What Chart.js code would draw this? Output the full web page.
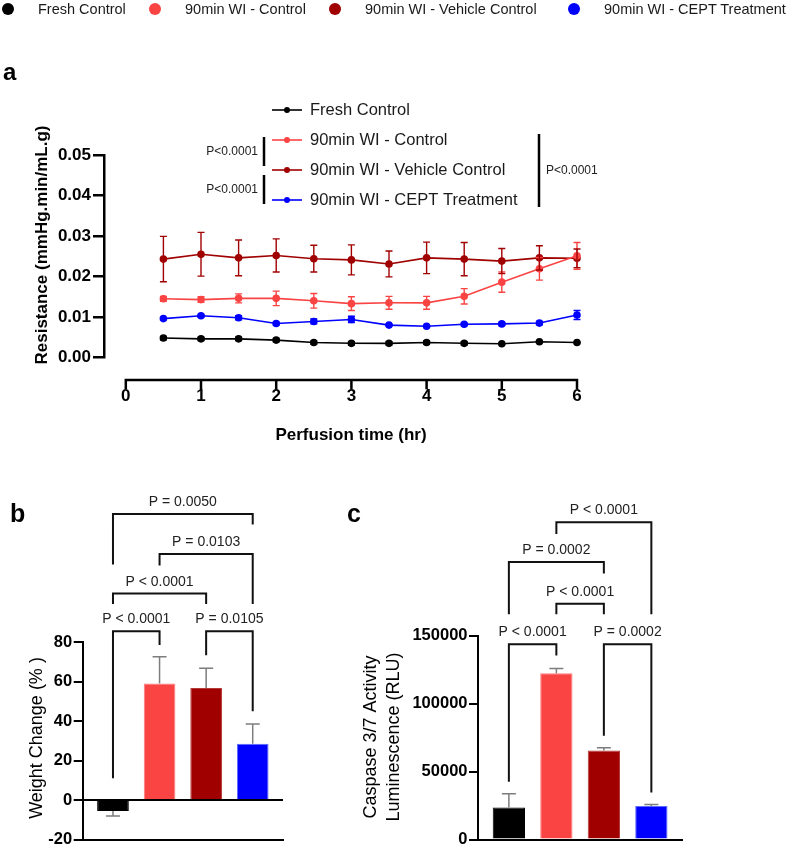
<!DOCTYPE html>
<html lang="en">
<head>
<meta charset="UTF-8">
<title>Resistance, weight change and caspase activity</title>
<style>
  body { margin: 0; background: #fff; font-family: "Liberation Sans", Arial, sans-serif; }
  #page { position: relative; width: 789px; height: 851px; overflow: hidden; }
  canvas { position: absolute; }
  .key { position: absolute; top: 0; height: 18px; line-height: 18px; font-size: 14.5px; color: #1a1a1a; white-space: nowrap; }
  .key i { position: absolute; left: -36px; top: 3px; width: 12px; height: 12px; border-radius: 50%; }
</style>
<script src="https://cdn.jsdelivr.net/npm/chart.js"></script>
</head>
<body>
<div id="page">
  <canvas id="chartA" width="789" height="460" style="left:0;top:0;width:789px;height:460px"></canvas>
  <canvas id="chartB" width="340" height="391" style="left:0;top:460px;width:340px;height:391px"></canvas>
  <canvas id="chartC" width="449" height="391" style="left:340px;top:460px;width:449px;height:391px"></canvas>
</div>

<script>
    // groups (shared by all panels)
    const groups = ['Fresh Control', '90min WI - Control', '90min WI - Vehicle Control', '90min WI - CEPT Treatment'];

    // panel a: resistance over perfusion time (mean and error)
    const times = [0.5, 1, 1.5, 2, 2.5, 3, 3.5, 4, 4.5, 5, 5.5, 6];
    const freshMean   = [0.0048, 0.0046, 0.0046, 0.0043, 0.0037, 0.0035, 0.0035, 0.0037, 0.0035, 0.0034, 0.0039, 0.0037];
    const freshErr    = [0.0004, 0.0004, 0.0004, 0.0004, 0.0004, 0.0004, 0.0004, 0.0004, 0.0004, 0.0001, 0.0001, 0.0001];
    const controlMean = [0.0145, 0.0143, 0.0146, 0.0146, 0.0140, 0.0133, 0.0135, 0.0135, 0.0151, 0.0186, 0.0219, 0.0251];
    const controlErr  = [0.0006, 0.0007, 0.0011, 0.0018, 0.0018, 0.0017, 0.0016, 0.0016, 0.0019, 0.0025, 0.0028, 0.0033];
    const vehicleMean = [0.0243, 0.0255, 0.0246, 0.0252, 0.0244, 0.0241, 0.0231, 0.0246, 0.0243, 0.0238, 0.0246, 0.0245];
    const vehicleErr  = [0.0056, 0.0054, 0.0044, 0.0041, 0.0033, 0.0037, 0.0032, 0.0039, 0.0041, 0.0031, 0.0030, 0.0023];
    const ceptMean    = [0.0096, 0.0103, 0.0098, 0.0084, 0.0089, 0.0094, 0.0080, 0.0077, 0.0082, 0.0083, 0.0085, 0.0105];
    const ceptErr     = [0.0003, 0.0003, 0.0005, 0.0003, 0.0006, 0.0008, 0.0002, 0.0002, 0.0003, 0.0004, 0.0004, 0.0011];
    const xTicksA = [0, 1, 2, 3, 4, 5, 6];

    // panel b: weight change (%)
    const weightMean = [-5.5, 59, 56.7, 28.5];
    const weightErr  = [2.5, 13.5, 10, 10];

    // panel c: caspase 3/7 luminescence (RLU)
    const caspMean = [23600, 122300, 65600, 24800];
    const caspErr  = [10200, 3600, 2000, 1000];

    // significance brackets: groups compared, label, bracket level and where each leg ends (data units)
    const weightBrackets = [
        { from: 0, to: 1, label: 'P < 0.0001', level: 85.5,  ends: [11, 78.5] },
        { from: 2, to: 3, label: 'P = 0.0105', level: 85.5,  ends: [73.3, 45] },
        { from: 0, to: 2, label: 'P < 0.0001', level: 104.5, ends: [99.2, 99.2] },
        { from: 1, to: 3, label: 'P = 0.0103', level: 124.5, ends: [118.7, 99.2] },
        { from: 0, to: 3, label: 'P = 0.0050', level: 144.8, ends: [119.2, 139.5] }
    ];
    const caspBrackets = [
        { from: 0, to: 1, label: 'P < 0.0001', level: 143660, ends: [42500, 135370] },
        { from: 2, to: 3, label: 'P = 0.0002', level: 143660, ends: [76420, 34700] },
        { from: 1, to: 2, label: 'P < 0.0001', level: 173500, ends: [165720, 165720] },
        { from: 0, to: 2, label: 'P = 0.0002', level: 204290, ends: [165720, 195780] },
        { from: 1, to: 3, label: 'P < 0.0001', level: 233400, ends: [224890, 165720] }
    ];

    const colors = ['#000000', '#FA4444', '#A00000', '#0000FF'];
    const edgeColors = ['#000000', '#FF7A7A', '#B53A3A', '#5A6CFF'];
    const FONT = '"Liberation Sans", Arial, sans-serif';
    Chart.defaults.font.family = FONT;
    Chart.defaults.color = '#000';

    // top key, shared by all panels
    const keyX = [38, 185, 365, 604];
    groups.forEach((g, i) => {
        const d = document.createElement('div');
        d.className = 'key';
        d.style.left = keyX[i] + 'px';
        d.innerHTML = '<i style="background:' + colors[i] + '"></i>';
        d.appendChild(document.createTextNode(g));
        document.getElementById('page').appendChild(d);
    });

    // error bars for line points (two-sided) and bars (one-sided, away from zero)
    const errorBars = {
        id: 'errorBars',
        afterDatasetsDraw(chart, args, opts) {
            const { ctx } = chart;
            const y = chart.scales.y;
            ctx.save();
            chart.data.datasets.forEach((ds, di) => {
                const meta = chart.getDatasetMeta(di);
                ds.err.forEach((e, i) => {
                    const v = ds.data[i].y;
                    const px = meta.data[i].x;
                    let y1, y2;
                    if (opts.oneSided) {
                        y1 = y.getPixelForValue(v);
                        y2 = y.getPixelForValue(v + Math.sign(v) * e);
                    } else {
                        y1 = y.getPixelForValue(v - e);
                        y2 = y.getPixelForValue(v + e);
                    }
                    ctx.strokeStyle = opts.color || ds.borderColor;
                    ctx.lineWidth = opts.width;
                    ctx.beginPath();
                    ctx.moveTo(px, y1); ctx.lineTo(px, y2);
                    if (!opts.oneSided) {
                        ctx.moveTo(px - opts.cap, y1); ctx.lineTo(px + opts.cap, y1);
                    }
                    ctx.moveTo(px - opts.cap, y2); ctx.lineTo(px + opts.cap, y2);
                    ctx.stroke();
                });
            });
            ctx.restore();
        }
    };

    // comparison brackets above the bars
    const brackets = {
        id: 'brackets',
        afterDraw(chart, args, opts) {
            if (!opts.items) return;
            const { ctx } = chart;
            const { x, y } = chart.scales;
            ctx.save();
            ctx.strokeStyle = '#111';
            ctx.lineWidth = 2;
            ctx.fillStyle = '#222';
            ctx.font = '14px ' + FONT;
            ctx.textAlign = 'center';
            ctx.textBaseline = 'alphabetic';
            opts.items.forEach(b => {
                const x1 = x.getPixelForValue(b.from);
                const x2 = x.getPixelForValue(b.to);
                const yTop = y.getPixelForValue(b.level);
                ctx.beginPath();
                ctx.moveTo(x1, y.getPixelForValue(b.ends[0]));
                ctx.lineTo(x1, yTop);
                ctx.lineTo(x2, yTop);
                ctx.lineTo(x2, y.getPixelForValue(b.ends[1]));
                ctx.stroke();
                ctx.fillText(b.label, (x1 + x2) / 2, yTop - 8);
            });
            ctx.restore();
        }
    };

    // free text: panel letters and axis titles
    const labels = {
        id: 'labels',
        afterDraw(chart, args, opts) {
            const { ctx } = chart;
            (opts.items || []).forEach(t => {
                ctx.save();
                ctx.font = t.font;
                ctx.fillStyle = t.color || '#000';
                ctx.textAlign = t.align || 'center';
                ctx.textBaseline = t.baseline || 'middle';
                ctx.translate(t.x, t.y);
                if (t.rotate) ctx.rotate(-Math.PI / 2);
                ctx.fillText(t.text, 0, 0);
                ctx.restore();
            });
        }
    };

    // panel a extras: offset x axis, in-plot key and P brackets beside it
    const panelA = {
        id: 'panelA',
        afterDraw(chart, args, opts) {
            const { ctx, chartArea } = chart;
            const x = chart.scales.x;
            ctx.save();
            ctx.strokeStyle = '#000';
            ctx.lineWidth = 2.5;
            ctx.lineCap = 'square';
            const ay = chartArea.bottom + opts.axisGap;
            ctx.beginPath();
            ctx.moveTo(x.getPixelForValue(xTicksA[0]), ay);
            ctx.lineTo(x.getPixelForValue(xTicksA[xTicksA.length - 1]), ay);
            xTicksA.forEach(v => {
                const px = x.getPixelForValue(v);
                ctx.moveTo(px, ay);
                ctx.lineTo(px, ay + 8);
            });
            ctx.stroke();

            // key, in group order
            ctx.lineCap = 'butt';
            ctx.font = '16.5px ' + FONT;
            ctx.textBaseline = 'middle';
            ctx.textAlign = 'left';
            const rowY = i => opts.keyY + i * opts.keyStep;
            chart.data.datasets.forEach((ds, i) => {
                const ry = rowY(i);
                ctx.strokeStyle = ds.borderColor;
                ctx.fillStyle = ds.borderColor;
                ctx.lineWidth = 1.6;
                ctx.beginPath();
                ctx.moveTo(opts.keyX, ry); ctx.lineTo(opts.keyX + 30, ry);
                ctx.stroke();
                ctx.beginPath();
                ctx.arc(opts.keyX + 15, ry, 3, 0, Math.PI * 2);
                ctx.fill();
                ctx.fillStyle = '#1a1a1a';
                ctx.fillText(ds.label, opts.keyX + 38, ry);
            });

            // P brackets
            ctx.strokeStyle = '#000';
            ctx.lineWidth = 2.5;
            ctx.font = '12px ' + FONT;
            ctx.fillStyle = '#222';
            const bars = [
                { x: 264, y1: rowY(1) - 3, y2: rowY(2) - 4, side: 'left' },
                { x: 264, y1: rowY(2) + 5, y2: rowY(3) + 4, side: 'left' },
                { x: 539, y1: rowY(1) - 6, y2: rowY(3) + 7, side: 'right' }
            ];
            bars.forEach(b => {
                ctx.beginPath();
                ctx.moveTo(b.x, b.y1); ctx.lineTo(b.x, b.y2);
                ctx.stroke();
                ctx.textAlign = b.side === 'left' ? 'right' : 'left';
                ctx.fillText('P<0.0001', b.side === 'left' ? b.x - 6 : b.x + 7, (b.y1 + b.y2) / 2);
            });
            ctx.restore();
        }
    };

    // zero line for panel b
    const zeroLine = {
        id: 'zeroLine',
        afterDatasetsDraw(chart) {
            const { ctx, chartArea } = chart;
            const y0 = chart.scales.y.getPixelForValue(0);
            ctx.save();
            ctx.strokeStyle = '#000';
            ctx.lineWidth = 2;
            ctx.beginPath();
            ctx.moveTo(chartArea.left, y0);
            ctx.lineTo(chartArea.right, y0);
            ctx.stroke();
            ctx.restore();
        }
    };

    const seriesA = [
        { mean: freshMean, err: freshErr },
        { mean: controlMean, err: controlErr },
        { mean: vehicleMean, err: vehicleErr },
        { mean: ceptMean, err: ceptErr }
    ];

    new Chart(document.getElementById('chartA'), {
        type: 'line',
        data: {
            datasets: seriesA.map((s, i) => ({
                label: groups[i],
                data: times.map((t, k) => ({ x: t, y: s.mean[k] })),
                err: s.err,
                borderColor: colors[i],
                backgroundColor: colors[i],
                borderWidth: 1.6,
                pointRadius: 3,
                pointHoverRadius: 3,
                tension: 0
            }))
        },
        options: {
            responsive: false,
            animation: false,
            clip: false,
            layout: { padding: { left: 0, top: 155, right: 212, bottom: 0 } },
            plugins: {
                legend: { display: false },
                tooltip: { enabled: false },
                errorBars: { width: 1.4, cap: 3.5 },
                panelA: { axisGap: 22.5, keyX: 272, keyY: 110, keyStep: 30 },
                labels: {
                    items: [
                        { text: 'a', x: 3, y: 80, font: 'bold 24px ' + FONT, align: 'left', baseline: 'alphabetic' },
                        { text: 'Resistance (mmHg.min/mL.g)', x: 42, y: 245, font: 'bold 17px ' + FONT, rotate: true },
                        { text: 'Perfusion time (hr)', x: 351, y: 435, font: 'bold 17px ' + FONT }
                    ]
                }
            },
            scales: {
                x: {
                    type: 'linear', min: -0.29, max: 6,
                    afterBuildTicks: s => { s.ticks = xTicksA.map(v => ({ value: v })); },
                    afterFit: s => { s.height = 102.5; },
                    grid: { display: false, drawTicks: false },
                    border: { display: false },
                    ticks: { font: { size: 17, weight: 'bold' }, color: '#000', padding: 29, maxRotation: 0 }
                },
                y: {
                    min: 0, max: 0.05,
                    afterFit: s => { s.width = 104; },
                    ticks: { stepSize: 0.01, callback: v => v.toFixed(2), font: { size: 17, weight: 'bold' }, color: '#000', padding: 2 },
                    grid: { drawOnChartArea: false, tickLength: 11, color: '#000', lineWidth: 2.5 },
                    border: { color: '#000', width: 2.5 }
                }
            }
        },
        plugins: [errorBars, panelA, labels]
    });

    function barChart(id, means, errs, opts) {
        return new Chart(document.getElementById(id), {
            type: 'bar',
            data: {
                datasets: [{
                    label: opts.label,
                    data: means.map((v, i) => ({ x: i, y: v })),
                    err: errs,
                    backgroundColor: colors,
                    borderColor: edgeColors,
                    borderWidth: 1,
                    barPercentage: 0.68,
                    categoryPercentage: 1
                }]
            },
            options: {
                responsive: false,
                animation: false,
                layout: { padding: opts.padding },
                plugins: {
                    legend: { display: false },
                    tooltip: { enabled: false },
                    errorBars: { oneSided: true, color: '#7d7d7d', width: 1.5, cap: 7 },
                    brackets: { items: opts.brackets },
                    labels: { items: opts.texts }
                },
                scales: {
                    x: {
                        type: 'linear', min: -0.65, max: opts.xMax, offset: false,
                        afterFit: s => { s.height = 0; },
                        ticks: { display: false },
                        grid: { display: false, drawTicks: false, offset: false },
                        border: { color: '#000', width: 2 }
                    },
                    y: {
                        min: opts.yMin, max: opts.yMax,
                        afterFit: s => { s.width = opts.axisLeft; },
                        ticks: { stepSize: opts.step, callback: v => String(v), font: { size: 16.5, weight: 'bold' }, color: '#000', padding: 1.5 },
                        grid: { drawOnChartArea: false, tickLength: 9, color: '#000', lineWidth: 2 },
                        border: { color: '#000', width: 2 }
                    }
                }
            },
            plugins: opts.extra.concat([errorBars, brackets, labels])
        });
    }

    // canvas b starts at page x 0, y 460
    barChart('chartB', weightMean, weightErr, {
        label: 'Weight Change (%)',
        padding: { left: 0, top: 182, right: 57, bottom: 8.7 },
        axisLeft: 82.7, xMax: 3.65, yMin: -20, yMax: 80, step: 20,
        brackets: weightBrackets,
        extra: [zeroLine],
        texts: [
            { text: 'b', x: 10, y: 62, font: 'bold 25px ' + FONT, align: 'left', baseline: 'alphabetic' },
            { text: 'Weight Change (% )', x: 37, y: 278, font: '18px ' + FONT, rotate: true }
        ]
    });

    // canvas c starts at page x 340, y 460
    barChart('chartC', caspMean, caspErr, {
        label: 'Caspase 3/7 Activity Luminescence (RLU)',
        padding: { left: 0, top: 175.7, right: 106.3, bottom: 9.3 },
        axisLeft: 138, xMax: 3.66, yMin: 0, yMax: 150000, step: 50000,
        brackets: caspBrackets,
        extra: [],
        texts: [
            { text: 'c', x: 7, y: 62, font: 'bold 25px ' + FONT, align: 'left', baseline: 'alphabetic' },
            { text: 'Caspase 3/7 Activity', x: 31, y: 277, font: '18px ' + FONT, rotate: true },
            { text: 'Luminescence (RLU)', x: 54, y: 277, font: '18px ' + FONT, rotate: true }
        ]
    });
</script>
</body>
</html>
